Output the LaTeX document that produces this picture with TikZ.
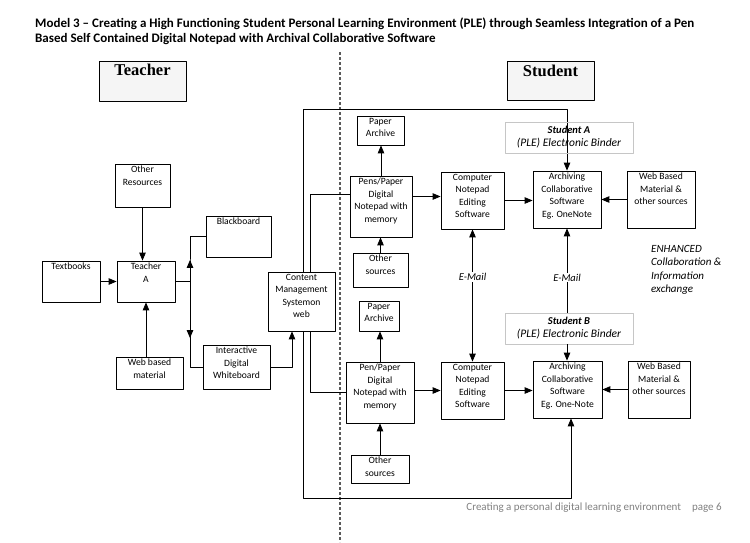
\documentclass[tikz,border=0pt]{standalone}
\usepackage{fontspec}
\setmainfont{Carlito}
\newfontfamily\headfont{Liberation Serif}
\usetikzlibrary{arrows,calc}

\tikzset{
	blk/.style={draw, line width=0.9pt, inner sep=0pt},
	txt/.style={label={[anchor=north, inner sep=2.5pt, align=center, font=\fontsize{9.6}{12.5}\selectfont]north:#1}},
	hd/.style={draw, line width=0.9pt, fill=gray!8, inner sep=0pt, label={[anchor=north, inner sep=3.5pt, font=\headfont\bfseries\fontsize{16.5}{18}\selectfont]north:#1}},
	binder/.style={draw=gray!45, line width=0.8pt, fill=white, align=center, inner sep=0pt, font=\itshape\fontsize{11.5}{13}\selectfont},
	lnk/.style={line width=0.8pt},
	mail/.style={fill=white, inner sep=1pt, font=\itshape\fontsize{10.5}{12}\selectfont}
}

\begin{document}
\begin{tikzpicture}[line join=round,>=triangle 45,x=1pt,y=-1pt]
		\useasboundingbox (0,0) rectangle (750,542);
		% title and footer
		\node[anchor=north west, align=left, inner sep=0pt, font=\bfseries\fontsize{13}{15}\selectfont] (ttl) at (35,18) {Model 3 – Creating a High Functioning Student Personal Learning Environment (PLE) through Seamless Integration of a Pen\\Based Self Contained Digital Notepad with Archival Collaborative Software};
		\node[anchor=east, inner sep=0pt, text=gray, font=\fontsize{11}{13}\selectfont] (ftr) at (722,508) {Creating a personal digital learning environment\quad page 6};
		% divider
		\draw [gray!70!black, line width=1.3pt, dash pattern=on 3pt off 2pt] (340,52)--(340,542);
		% headings
		\node[hd=Teacher, minimum width=87, minimum height=40] (teacherhd) at (142.5,81) {};
		\node[hd=Student, minimum width=87, minimum height=39] (studenthd) at (550.5,81) {};
		% teacher side
		\node[blk, txt=Other\\Resources, minimum width=55, minimum height=43] (othres) at (142.5,185.5) {};
		\node[blk, txt=Blackboard, minimum width=65, minimum height=41] (blackbd) at (238.5,236.5) {};
		\node[blk, txt=Textbooks, minimum width=58, minimum height=41] (textbk) at (71,281.5) {};
		\node[blk, txt=Teacher\\A, minimum width=58, minimum height=41] (teachA) at (146,281.5) {};
		\node[blk, txt=Web based\\material, minimum width=67, minimum height=32] (webmat) at (149.5,373) {};
		\node[blk, txt=Interactive\\Digital\\Whiteboard, minimum width=67, minimum height=44] (iwb) at (236.5,367) {};
		\node[blk, txt=Content\\Management\\Systemon\\web, minimum width=67, minimum height=59] (cms) at (301.5,301.5) {};
		% student A
		\node[blk, txt=Paper\\Archive, minimum width=47, minimum height=29] (archA) at (380.5,130.5) {};
		\node[blk, txt=Pens/Paper\\Digital\\Notepad with\\memory, minimum width=62, minimum height=61] (penA) at (381,206.5) {};
		\node[blk, txt=Other\\sources, minimum width=55, minimum height=34] (othA) at (380.5,270) {};
		\node[blk, txt=Computer\\Notepad\\Editing\\Software, minimum width=63, minimum height=57] (compA) at (472.5,200.5) {};
		\node[blk, txt=Archiving\\Collaborative\\Software\\Eg. OneNote, minimum width=68, minimum height=57] (collA) at (567,199.5) {};
		\node[blk, txt=Web Based\\Material \&\\other sources, minimum width=68, minimum height=57] (webA) at (661,199.5) {};
		% student B
		\node[blk, txt=Paper\\Archive, minimum width=40, minimum height=30] (archB) at (379,316) {};
		\node[blk, txt=Pen/Paper\\Digital\\Notepad with\\memory, minimum width=68, minimum height=61] (penB) at (380,392.5) {};
		\node[blk, txt=Other\\sources, minimum width=58, minimum height=28] (othB) at (380,469) {};
		\node[blk, txt=Computer\\Notepad\\Editing\\Software, minimum width=63, minimum height=57] (compB) at (472.5,390.5) {};
		\node[blk, txt=Archiving\\Collaborative\\Software\\Eg. One-Note, minimum width=69, minimum height=57] (collB) at (567.5,389.5) {};
		\node[blk, txt=Web Based\\Material \&\\other sources, minimum width=62, minimum height=57] (webB) at (659,389.5) {};
		\node[anchor=north west, align=left, inner sep=0pt, font=\itshape\fontsize{11}{13.5}\selectfont] (enh) at (651,245) {ENHANCED\\Collaboration \&\\Information\\exchange};
		% teacher links
		\coordinate (j) at (190,281.5);
		\coordinate (jup) at (190,260);
		\coordinate (jdn) at (190,338);
		\draw [lnk,->] (textbk.east)--(teachA.west);
		\draw [lnk,->] (othres.south)--(othres.south |- teachA.north);
		\draw [lnk,->] (webmat.north -| teachA.south)--(teachA.south);
		\draw [lnk] (teachA.east)--(j);
		\draw [lnk] (blackbd.west) -| (j) |- (iwb.west);
		\draw [lnk,->] (j)--(jup);
		\draw [lnk,->] (j)--(jdn);
		\draw [lnk,->] (iwb.east) -| ($(cms.south)+(-9.5,0)$);
		% loops round the student side
		\coordinate (lt) at (303,109);
		\coordinate (lb) at (303,498);
		\draw [lnk,->] (lt |- cms.north)--(lt) -| (collA.north);
		\draw [lnk,->] (lb |- cms.south)--(lb) -| ($(collB.south)+(3.5,0)$);
		\draw [lnk] ($(cms.north)+(8.5,0)$) |- ($(penA.west)+(0,-12.5)$);
		\draw [lnk] ($(cms.south)+(8.5,0)$) |- (penB.west);
		% student A links
		\draw [lnk,->] (penA.north)--(penA.north |- archA.south);
		\draw [lnk,->] (othA.north)--(othA.north |- penA.south);
		\draw [lnk,->] ($(penA.east)+(0,-10)$)--($(compA.west)+(0,-4)$);
		\draw [lnk,->] (compA.east)--(compA.east -| collA.west);
		\draw [lnk,->] (webA.west)--(webA.west -| collA.east);
		% student B links
		\draw [lnk,->] (penB.north)--(penB.north |- archB.south);
		\draw [lnk,->] (othB.north)--(othB.north |- penB.south);
		\draw [lnk,->] (penB.east |- compB.west)--(compB.west);
		\draw [lnk,->] (compB.east)--(compB.east -| collB.west);
		\draw [lnk,->] (webB.west)--(webB.west -| collB.east);
		% binders and e-mail
		\node[binder, minimum width=128, minimum height=31, fill=none] (bindA) at (569,137.5) {{\fontsize{10.5}{13}\selectfont\bfseries Student A}\\(PLE) Electronic Binder};
		\draw [lnk,<->] (compA.south)-- node[mail, pos=0.36] {E-Mail} (compB.north);
		\draw [lnk,<-] (collA.south)-- node[mail, pos=0.58] {E-Mail} (collA.south |- 0,313);
		\node[binder, minimum width=128, minimum height=31] (bindB) at (569,328.5) {{\fontsize{10.5}{13}\selectfont\bfseries Student B}\\(PLE) Electronic Binder};
		\draw [lnk,->] (collA.south |- bindB.south)--(collA.south |- collB.north);
\end{tikzpicture}
\end{document}
